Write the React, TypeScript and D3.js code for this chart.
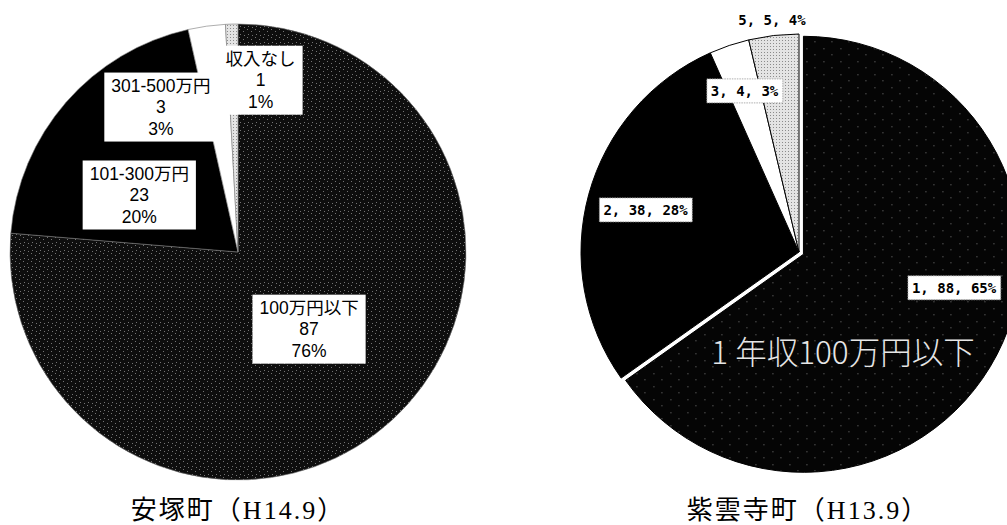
import React, { useEffect, useRef } from "react";
import * as d3 from "d3";

const W = 1007;
const H = 525;

// 安塚町 (H14.9): households by annual income bracket
const yasuzukaCategories = ["100万円以下", "101-300万円", "301-500万円", "収入なし"];
const yasuzukaCounts = [87, 23, 3, 1];

// 紫雲寺町 (H13.9): households by survey bracket number
const shiunjiCategories = ["1", "2", "3", "5"];
const shiunjiCounts = [88, 38, 4, 5];

const chartTitles = ["安塚町（H14.9）", "紫雲寺町（H13.9）"];
const shiunjiNote = "1 年収100万円以下";

// slice fills, in category order
const yasuzukaFills = ["url(#dotDense)", "#000", "#fff", "url(#dotLight)"];
const shiunjiFills = ["url(#dotSparse)", "#000", "#fff", "url(#dotLight)"];

// label placement: fraction of radius, optional angle (deg, clockwise from 12 o'clock)
const yasuzukaLabelPlace = [
  { r: 0.46 },
  { r: 0.5, a: 300 },
  { r: 0.72, a: 332 },
  { r: 0.76, a: 7.5 },
];
const shiunjiLabelPlace = [
  { r: 0.73, a: 103 },
  { r: 0.73 },
  { r: 0.78 },
  { r: 1.07 },
];

const labelFont = "'Liberation Sans', 'Noto Sans CJK JP', sans-serif";
const noteFont = "'Noto Sans CJK JP', 'Noto Sans', sans-serif";
const monoBold = "'DejaVu Sans Mono', 'Liberation Mono', monospace";
const titleFont = "'Liberation Serif', 'DejaVu Serif', 'Noto Sans CJK JP', serif";

function polar(angleDeg: number, dist: number): [number, number] {
  const a = (angleDeg * Math.PI) / 180;
  return [Math.sin(a) * dist, -Math.cos(a) * dist];
}

export default function App() {
  const ref = useRef<SVGSVGElement | null>(null);

  useEffect(() => {
    const svg = d3.select(ref.current);
    svg.selectAll("*").remove();

    // halftone textures
    const defs = svg.append("defs");
    const dense = defs
      .append("pattern")
      .attr("id", "dotDense")
      .attr("patternUnits", "userSpaceOnUse")
      .attr("width", 8)
      .attr("height", 8);
    dense.append("rect").attr("width", 8).attr("height", 8).attr("fill", "#0e0e0e");
    [[1, 1], [5, 3], [2, 6], [6, 7]].forEach(([x, y]) =>
      dense.append("rect").attr("x", x).attr("y", y).attr("width", 1).attr("height", 1).attr("fill", "#747474")
    );
    const sparse = defs
      .append("pattern")
      .attr("id", "dotSparse")
      .attr("patternUnits", "userSpaceOnUse")
      .attr("width", 17)
      .attr("height", 13);
    sparse.append("rect").attr("width", 17).attr("height", 13).attr("fill", "#050505");
    [[3, 2], [11, 8]].forEach(([x, y]) =>
      sparse.append("rect").attr("x", x).attr("y", y).attr("width", 1).attr("height", 1).attr("fill", "#7a7a7a")
    );
    const light = defs
      .append("pattern")
      .attr("id", "dotLight")
      .attr("patternUnits", "userSpaceOnUse")
      .attr("width", 3)
      .attr("height", 3);
    light.append("rect").attr("width", 3).attr("height", 3).attr("fill", "#e4e4e4");
    light.append("rect").attr("x", 1).attr("y", 1).attr("width", 1).attr("height", 1).attr("fill", "#8c8c8c");

    const pie = d3.pie<number>().sort(null).value((d) => d);

    // ---- 安塚町 ----
    {
      const cx = 238;
      const cy = 252;
      const r = 228;
      const g = svg.append("g").attr("transform", `translate(${cx},${cy})`);
      const arcs = pie(yasuzukaCounts);
      const arc = d3.arc<d3.PieArcDatum<number>>().innerRadius(0).outerRadius(r);
      g.selectAll("path.slice")
        .data(arcs)
        .join("path")
        .attr("class", "slice")
        .attr("d", arc)
        .attr("fill", (_, i) => yasuzukaFills[i])
        .attr("stroke", "#777")
        .attr("stroke-width", 0.6);

      const total = d3.sum(yasuzukaCounts);
      const fs = 17.5;
      const lh = 21.5;
      arcs.forEach((d, i) => {
        const place = yasuzukaLabelPlace[i];
        const mid = ((d.startAngle + d.endAngle) / 2) * (180 / Math.PI);
        const [lx, ly] = polar(place.a ?? mid, place.r * r);
        const lines = [
          yasuzukaCategories[i],
          String(yasuzukaCounts[i]),
          `${Math.round((yasuzukaCounts[i] / total) * 100)}%`,
        ];
        const lg = g.append("g").attr("transform", `translate(${lx},${ly})`);
        const rect = lg.append("rect").attr("fill", "#fff");
        const texts = lines.map((s, k) =>
          lg
            .append("text")
            .attr("x", 0)
            .attr("y", (k - 1) * lh)
            .attr("dominant-baseline", "central")
            .attr("text-anchor", "middle")
            .attr("font-family", labelFont)
            .attr("font-size", fs)
            .attr("fill", "#000")
            .text(s)
        );
        const boxes = texts.map((t) => (t.node() as SVGTextElement).getBBox());
        const x0 = d3.min(boxes, (b) => b.x) as number;
        const x1 = d3.max(boxes, (b) => b.x + b.width) as number;
        const y0 = d3.min(boxes, (b) => b.y) as number;
        const y1 = d3.max(boxes, (b) => b.y + b.height) as number;
        rect
          .attr("x", x0 - 7)
          .attr("y", y0 - 3)
          .attr("width", x1 - x0 + 14)
          .attr("height", y1 - y0 + 6);
      });

      svg
        .append("text")
        .attr("x", cx)
        .attr("y", 519)
        .attr("text-anchor", "middle")
        .attr("font-family", titleFont)
        .attr("font-size", 26)
        .attr("letter-spacing", 2)
        .attr("fill", "#000")
        .text(chartTitles[0]);
    }

    // ---- 紫雲寺町 ----
    {
      const cx = 799;
      const cy = 252;
      const r = 218;
      const explode = 5;
      const g = svg.append("g").attr("transform", `translate(${cx},${cy})`);
      const arcs = pie(shiunjiCounts);
      const arc = d3.arc<d3.PieArcDatum<number>>().innerRadius(0).outerRadius(r);
      g.selectAll("path.slice")
        .data(arcs)
        .join("path")
        .attr("class", "slice")
        .attr("d", arc)
        .attr("transform", (d, i) => {
          if (i !== 0) return null;
          const mid = ((d.startAngle + d.endAngle) / 2) * (180 / Math.PI);
          const [ox, oy] = polar(mid, explode);
          return `translate(${ox},${oy})`;
        })
        .attr("fill", (_, i) => shiunjiFills[i])
        .attr("stroke", "#000")
        .attr("stroke-width", 1);

      // annotation on the largest slice
      g.append("text")
        .attr("x", 44)
        .attr("y", 98)
        .attr("text-anchor", "middle")
        .attr("dominant-baseline", "central")
        .attr("font-family", noteFont)
        .attr("font-size", 31.5)
        .attr("font-weight", 300)
        .attr("fill", "#e6e6e6")
        .text(shiunjiNote);

      const total = d3.sum(shiunjiCounts);
      arcs.forEach((d, i) => {
        const place = shiunjiLabelPlace[i];
        const mid = ((d.startAngle + d.endAngle) / 2) * (180 / Math.PI);
        const [lx, ly] = polar(place.a ?? mid, place.r * r);
        const label = `${shiunjiCategories[i]}, ${shiunjiCounts[i]}, ${Math.round(
          (shiunjiCounts[i] / total) * 100
        )}%`;
        const lg = g.append("g").attr("transform", `translate(${lx},${ly})`);
        const rect = lg.append("rect").attr("fill", "#fff");
        const t = lg
          .append("text")
          .attr("text-anchor", "middle")
          .attr("dominant-baseline", "central")
          .attr("font-family", monoBold)
          .attr("font-weight", "bold")
          .attr("font-size", 14)
          .attr("fill", "#000")
          .text(label);
        if (place.r < 1) {
          const bb = (t.node() as SVGTextElement).getBBox();
          rect
            .attr("x", bb.x - 4)
            .attr("y", bb.y - 4)
            .attr("width", bb.width + 8)
            .attr("height", bb.height + 8)
            .attr("stroke", "#999")
            .attr("stroke-width", 0.8)
            .attr("stroke-dasharray", "1.5 1");
        } else {
          rect.remove();
        }
      });

      svg
        .append("text")
        .attr("x", 808)
        .attr("y", 519)
        .attr("text-anchor", "middle")
        .attr("font-family", titleFont)
        .attr("font-size", 26)
        .attr("letter-spacing", 2)
        .attr("fill", "#000")
        .text(chartTitles[1]);
    }
  }, []);

  return (
    <svg
      ref={ref}
      width={W}
      height={H}
      viewBox={`0 0 ${W} ${H}`}
      style={{ position: "absolute", left: 0, top: 0, background: "#fff" }}
    />
  );
}
